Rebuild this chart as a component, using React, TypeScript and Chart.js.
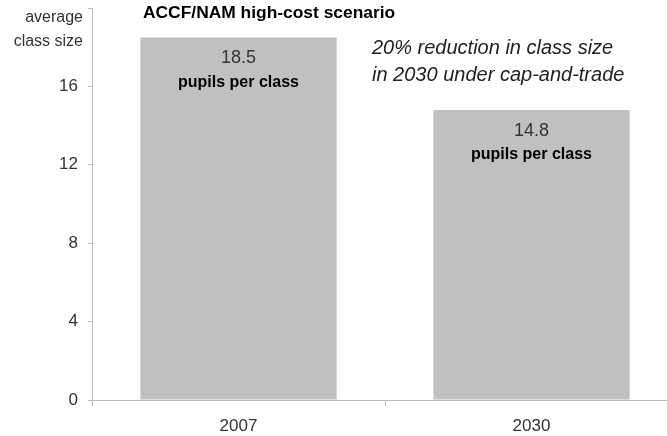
import React, { useEffect, useRef } from "react";
import { Chart, registerables } from "chart.js";

Chart.register(...registerables);

const categories = ["2007", "2030"];
const classSize = [18.5, 14.8];
const valueLabels = ["18.5", "14.8"];
const unitLabel = "pupils per class";
const yTicks = [0, 4, 8, 12, 16, 20];
const titleText = "ACCF/NAM high-cost scenario";
const yTitleLines = ["average", "class size"];
const noteLines = ["20% reduction in class size", "in 2030 under cap-and-trade"];

const FONT = "'Liberation Sans', Arial, sans-serif";

const textPlugin = {
  id: "textPlugin",
  afterDatasetsDraw(chart: any) {
    const ctx = chart.ctx;
    const meta = chart.getDatasetMeta(0);
    ctx.save();
    ctx.textAlign = "center";
    ctx.textBaseline = "middle";
    meta.data.forEach((bar: any, i: number) => {
      ctx.fillStyle = "#333";
      ctx.font = `18px ${FONT}`;
      ctx.fillText(valueLabels[i], bar.x, bar.y + 21);
      ctx.fillStyle = "#000";
      ctx.font = `bold 16px ${FONT}`;
      ctx.fillText(unitLabel, bar.x, bar.y + 45);
    });
    // title
    ctx.textAlign = "left";
    ctx.fillStyle = "#000";
    ctx.font = `bold 17.4px ${FONT}`;
    ctx.fillText(titleText, 143, 13);
    // y title
    ctx.textAlign = "right";
    ctx.fillStyle = "#333";
    ctx.font = `16px ${FONT}`;
    ctx.fillText(yTitleLines[0], 83, 18);
    ctx.fillText(yTitleLines[1], 83, 42);
    // note
    ctx.textAlign = "left";
    ctx.fillStyle = "#222";
    ctx.font = `italic 20px ${FONT}`;
    ctx.fillText(noteLines[0], 372, 48);
    ctx.fillText(noteLines[1], 372, 75);
    ctx.restore();
  },
};

export default function App() {
  const ref = useRef<HTMLCanvasElement | null>(null);
  useEffect(() => {
    document.body.style.margin = "0";
    const chart = new Chart(ref.current as HTMLCanvasElement, {
      type: "bar",
      data: {
        labels: categories,
        datasets: [
          {
            data: classSize,
            backgroundColor: "#c0c0c0",
            borderWidth: 0,
            barPercentage: 0.67,
            categoryPercentage: 1,
          },
        ],
      },
      plugins: [textPlugin],
      options: {
        animation: false,
        responsive: false,
        layout: { padding: { top: 8, right: 0, left: 0, bottom: 0 } },
        plugins: { legend: { display: false }, tooltip: { enabled: false } },
        scales: {
          x: {
            offset: true,
            grid: {
              offset: true,
              drawOnChartArea: false,
              drawTicks: true,
              tickLength: 6,
              color: "#bbb",
            },
            border: { color: "#bbb" },
            ticks: { color: "#333", font: { size: 17, family: FONT }, padding: 10 },
            afterFit: (s: any) => {
              s.height = 36;
            },
          },
          y: {
            min: 0,
            max: 20,
            afterBuildTicks: (s: any) => {
              s.ticks = yTicks.map((v) => ({ value: v }));
            },
            grid: {
              drawOnChartArea: false,
              drawTicks: true,
              tickLength: 4,
              color: "#bbb",
            },
            border: { color: "#bbb" },
            ticks: {
              color: "#333",
              font: { size: 17, family: FONT },
              padding: 10,
              callback: (v: any) => (v === 20 ? "" : String(v)),
            },
            afterFit: (s: any) => {
              s.width = 92;
              s.paddingTop = 0;
            },
          },
        },
      },
    });
    return () => chart.destroy();
  }, []);
  return (
    <div
      style={{
        position: "fixed",
        left: 0,
        top: 0,
        width: 667,
        height: 436,
        overflow: "hidden",
        background: "#fff",
      }}
    >
      <canvas ref={ref} width={678} height={436} style={{ display: "block" }} />
    </div>
  );
}
